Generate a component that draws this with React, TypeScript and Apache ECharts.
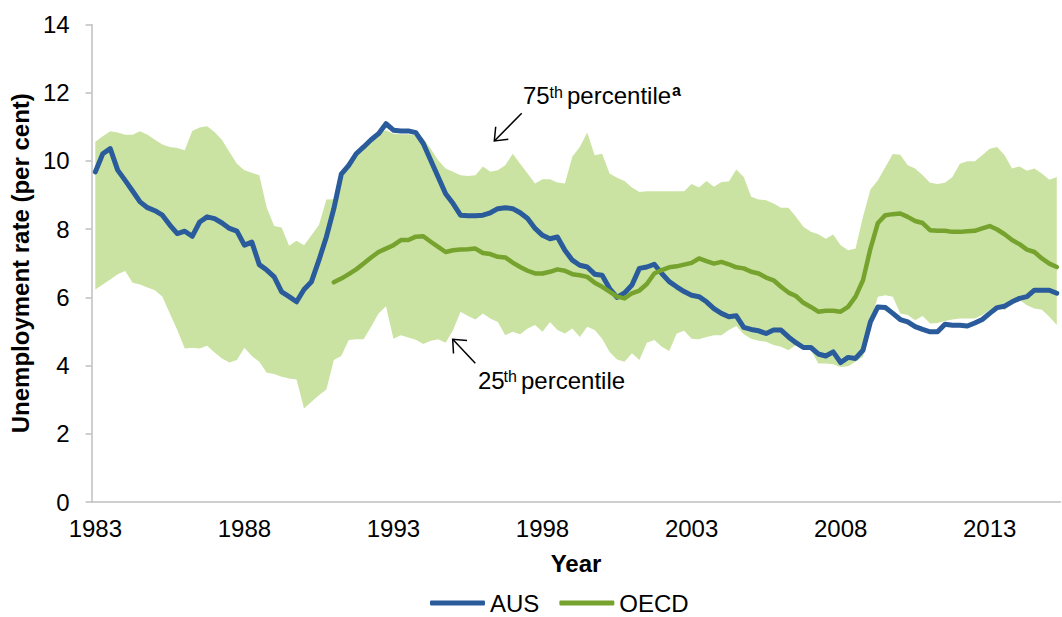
import React, { useEffect, useRef } from "react";
import * as echarts from "echarts";

const FONT = '"Liberation Sans", Arial, Helvetica, sans-serif';

// Quarterly categories, 1983 Q1 to 2015 Q2
const YEARS = [
  1983, 1984, 1985, 1986, 1987, 1988, 1989, 1990, 1991, 1992, 1993, 1994, 1995, 1996, 1997, 1998,
  1999, 2000, 2001, 2002, 2003, 2004, 2005, 2006, 2007, 2008, 2009, 2010, 2011, 2012, 2013, 2014, 2015,
];
const QUARTERS = ["Q1", "Q2", "Q3", "Q4"];
const N_CATEGORIES = 130;
const categories: string[] = YEARS.flatMap((y) => QUARTERS.map((q) => `${y} ${q}`)).slice(0, N_CATEGORIES);

// Tick labels shown on the x axis (every 5 years)
const tickLabels = ["1983", "1988", "1993", "1998", "2003", "2008", "2013"];

// Australia unemployment rate
const aus = [
  9.68, 10.21, 10.36, 9.73, 9.43, 9.12, 8.8, 8.63, 8.54, 8.41, 8.12, 7.87, 7.94, 7.79, 8.21, 8.36, 8.31, 8.18, 8.02, 7.94, 7.53, 7.62,
  6.96, 6.8, 6.6, 6.16, 6.02, 5.87, 6.23, 6.46, 7.09, 7.77, 8.6, 9.61, 9.87, 10.21, 10.41, 10.62, 10.8, 11.09, 10.9, 10.88, 10.88, 10.83,
  10.51, 10.02, 9.53, 9.04, 8.75, 8.41, 8.39, 8.39, 8.41, 8.48, 8.6, 8.63, 8.6, 8.48, 8.31, 8.02, 7.82, 7.72, 7.77, 7.38, 7.09,
  6.94, 6.89, 6.68, 6.65, 6.26, 6.0, 6.13, 6.36, 6.85, 6.89, 6.97, 6.7, 6.46, 6.31, 6.17, 6.06, 6.02, 5.87, 5.67, 5.53, 5.43, 5.46,
  5.12, 5.06, 5.02, 4.94, 5.04, 5.04, 4.84, 4.67, 4.53, 4.53, 4.34, 4.28, 4.4, 4.09, 4.24, 4.21, 4.45, 5.28, 5.72, 5.7, 5.53, 5.35,
  5.28, 5.14, 5.06, 4.99, 4.99, 5.21, 5.18, 5.18, 5.16, 5.25, 5.35, 5.53, 5.7, 5.74, 5.87, 5.97, 6.02, 6.21, 6.21, 6.21, 6.12,
];

// OECD unemployment rate (available from 1991 Q1)
const OECD_START = "1991 Q1";
const oecdValues = [
  6.44, 6.55, 6.68, 6.82, 6.99, 7.17, 7.33, 7.43, 7.53, 7.68, 7.68, 7.78,
  7.79, 7.63, 7.48, 7.33, 7.38, 7.4, 7.41, 7.43, 7.3, 7.27, 7.19, 7.17, 7.02, 6.89, 6.78, 6.7, 6.7, 6.75, 6.82, 6.78, 6.68,
  6.65, 6.6, 6.43, 6.31, 6.17, 6.02, 5.97, 6.12, 6.2, 6.39, 6.7, 6.8, 6.88, 6.91, 6.96, 7.01, 7.14, 7.06, 6.99, 7.04, 6.97, 6.88,
  6.85, 6.75, 6.7, 6.58, 6.5, 6.31, 6.14, 6.04, 5.84, 5.72, 5.58, 5.61, 5.61, 5.58, 5.72, 6.02, 6.5, 7.43, 8.18, 8.41, 8.44, 8.46,
  8.36, 8.24, 8.18, 7.97, 7.95, 7.95, 7.92, 7.92, 7.94, 7.95, 8.02, 8.09, 7.99, 7.85, 7.68, 7.56, 7.4, 7.33, 7.14, 6.99, 6.89,
];

// OECD 75th percentile
const p75 = [
  10.56, 10.72, 10.87, 10.83, 10.77, 10.77, 10.87, 10.77, 10.62, 10.48, 10.41, 10.38, 10.31, 10.88, 10.98, 11.02, 10.85, 10.61, 10.26, 9.92, 9.73, 9.65,
  9.58, 8.63, 8.09, 8.05, 7.51, 7.66, 7.53, 7.82, 8.12, 8.87, 8.88,
  9.5, 9.9, 10.2, 10.4, 10.6, 10.8, 10.9, 10.8, 10.78, 10.78, 10.75,
  10.66, 10.36, 10.02, 9.78, 9.68, 9.58, 9.56, 9.58, 9.84, 9.68, 9.73, 9.87, 10.21, 9.92, 9.63, 9.34, 9.46, 9.46, 9.37, 9.34, 10.12,
  10.41, 10.83, 10.17, 10.21, 9.63, 9.51, 9.41, 9.22, 9.09, 9.11, 9.11, 9.11, 9.11, 9.11, 9.11, 9.32, 9.22, 9.41, 9.24, 9.38, 9.4, 9.75,
  9.53, 8.95, 8.87, 8.85, 8.75, 8.63, 8.63, 8.36, 8.07, 7.92, 7.85, 7.72, 7.84, 7.53, 7.38, 7.43, 8.36, 9.16, 9.43, 9.82, 10.2, 10.18,
  9.87, 9.78, 9.58, 9.36, 9.32, 9.36, 9.53, 9.92, 9.99, 9.99, 10.17, 10.36, 10.41, 10.17, 9.78, 9.84, 9.71, 9.78, 9.63, 9.45, 9.53,
];

// OECD 25th percentile
const p25 = [
  6.23, 6.38, 6.52, 6.68, 6.77, 6.43, 6.38, 6.29, 6.21, 6.02, 5.53, 5.04, 4.5, 4.52, 4.5, 4.58, 4.38, 4.21, 4.09, 4.16, 4.52, 4.28,
  4.11, 3.79, 3.75, 3.67, 3.62, 3.59, 2.74, 2.94, 3.13, 3.3, 4.16, 4.28, 4.75, 4.77, 4.77, 5.14, 5.53, 5.74, 4.79, 4.89, 4.82, 4.76,
  4.63, 4.73, 4.77, 4.67, 5.04, 5.58, 5.45, 5.35, 5.53, 5.38, 5.28, 4.89, 4.99, 4.92, 5.09, 5.19, 4.99, 5.28, 5.04, 4.94, 5.09,
  4.84, 5.14, 5.04, 4.79, 4.4, 4.18, 4.11, 4.36, 4.16, 4.67, 4.75, 4.55, 4.43, 4.94, 5.02, 4.79, 4.77, 4.84, 4.89, 4.89, 5.04, 5.16,
  4.92, 4.79, 4.73, 4.7, 4.6, 4.55, 4.45, 4.6, 4.55, 4.45, 4.06, 4.06, 4.04, 3.96, 3.98, 4.11, 4.26, 5.3, 6.02, 6.06, 6.02, 5.53,
  5.48, 5.33, 5.45, 5.23, 5.25, 5.31, 5.35, 5.38, 5.38, 5.38, 5.48, 5.62, 5.77, 5.62, 5.82, 5.92, 5.77, 5.67, 5.64, 5.43, 5.19,
];

const AUS_COLOR = "#2A5B9B";
const OECD_COLOR = "#76A22E";
const BAND_COLOR = "#CBE3A2";
const AXIS_COLOR = "#BFBFBF";

export default function App() {
  const ref = useRef<HTMLDivElement>(null);

  useEffect(() => {
    if (!ref.current) return;
    const chart = echarts.init(ref.current, undefined, { renderer: "svg" });

    const oecdStartIdx = categories.indexOf(OECD_START);
    const oecd = categories.map((_, i) =>
      i >= oecdStartIdx && i - oecdStartIdx < oecdValues.length ? oecdValues[i - oecdStartIdx] : null
    );
    const bandWidth = p75.map((v, i) => +(v - p25[i]).toFixed(3));

    const txt = (text: string, x: number, y: number, size: number, bold = false) => ({
      type: "text",
      x,
      y,
      silent: true,
      style: {
        text,
        fontSize: size,
        fontFamily: FONT,
        fontWeight: bold ? "bold" : "normal",
        fill: "#000",
        align: "left",
        verticalAlign: "middle",
      },
    });

    const option: any = {
      animation: false,
      textStyle: { fontFamily: FONT },
      grid: { left: 90.7, top: 24.5, width: 969.8, height: 477.5, containLabel: false },
      xAxis: {
        type: "category",
        data: categories,
        boundaryGap: true,
        name: "Year",
        nameLocation: "middle",
        nameGap: 49,
        nameTextStyle: { fontSize: 24, fontWeight: "bold", color: "#000", fontFamily: FONT },
        axisLine: { lineStyle: { color: AXIS_COLOR, width: 1.5 } },
        axisTick: { interval: 4, length: 6, lineStyle: { color: AXIS_COLOR, width: 1.5 } },
        axisLabel: {
          interval: 19,
          margin: 14,
          fontSize: 24,
          color: "#000",
          fontFamily: FONT,
          formatter: (v: string) => {
            const y = v.slice(0, 4);
            return tickLabels.includes(y) ? y : "";
          },
        },
        splitLine: { show: false },
      },
      yAxis: {
        type: "value",
        min: 0,
        max: 14,
        interval: 2,
        name: "Unemployment rate (per cent)",
        nameLocation: "middle",
        nameGap: 52,
        nameTextStyle: { fontSize: 24, fontWeight: "bold", color: "#000", fontFamily: FONT },
        axisLine: { show: true, lineStyle: { color: AXIS_COLOR, width: 1.5 } },
        axisTick: { show: true, length: 6, lineStyle: { color: AXIS_COLOR, width: 1.5 } },
        axisLabel: { margin: 22, fontSize: 24, color: "#000", fontFamily: FONT },
        splitLine: { show: false },
      },
      legend: {
        data: ["AUS", "OECD"],
        left: 430,
        top: 591,
        padding: 0,
        icon: "roundRect",
        itemWidth: 55,
        itemHeight: 5,
        itemGap: 20,
        textStyle: { fontSize: 24, lineHeight: 22, color: "#000", fontFamily: FONT },
      },
      series: [
        {
          name: "p25",
          type: "line",
          data: p25,
          stack: "band",
          symbol: "none",
          silent: true,
          lineStyle: { width: 0, opacity: 0 },
          z: 1,
        },
        {
          name: "band",
          type: "line",
          data: bandWidth,
          stack: "band",
          symbol: "none",
          silent: true,
          lineStyle: { width: 0, opacity: 0 },
          areaStyle: { color: BAND_COLOR, opacity: 1 },
          z: 1,
        },
        {
          name: "AUS",
          type: "line",
          data: aus,
          symbol: "none",
          color: AUS_COLOR,
          itemStyle: { color: AUS_COLOR },
          lineStyle: { width: 5, color: AUS_COLOR, cap: "round", join: "round" },
          z: 3,
        },
        {
          name: "OECD",
          type: "line",
          data: oecd,
          symbol: "none",
          color: OECD_COLOR,
          itemStyle: { color: OECD_COLOR },
          lineStyle: { width: 4.5, color: OECD_COLOR, cap: "round", join: "round" },
          z: 4,
        },
      ],
      graphic: [
        txt("75", 523, 95.3, 24),
        txt("th", 549.5, 92, 16),
        txt("percentile", 567, 95.3, 24),
        txt("a", 672, 90.8, 16, true),
        {
          type: "line",
          silent: true,
          shape: { x1: 521.7, y1: 113.3, x2: 494.3, y2: 141 },
          style: { stroke: "#000", lineWidth: 1.5 },
        },
        {
          type: "polyline",
          silent: true,
          shape: { points: [[495.7, 126.7], [494.3, 141], [508.3, 139.3]] },
          style: { stroke: "#000", lineWidth: 1.5, fill: null },
        },
        txt("25", 478, 380.3, 24),
        txt("th", 503.5, 376.5, 16),
        txt("percentile", 521, 380.3, 24),
        {
          type: "line",
          silent: true,
          shape: { x1: 475.3, y1: 363.3, x2: 452.7, y2: 339.3 },
          style: { stroke: "#000", lineWidth: 1.5 },
        },
        {
          type: "polyline",
          silent: true,
          shape: { points: [[453.5, 353.5], [452.7, 339.3], [467, 340.5]] },
          style: { stroke: "#000", lineWidth: 1.5, fill: null },
        },
      ],
    };

    chart.setOption(option);
    return () => chart.dispose();
  }, []);

  return (
    <div
      ref={ref}
      style={{ position: "absolute", left: 0, top: 0, width: 1062, height: 617, background: "#fff" }}
    />
  );
}
